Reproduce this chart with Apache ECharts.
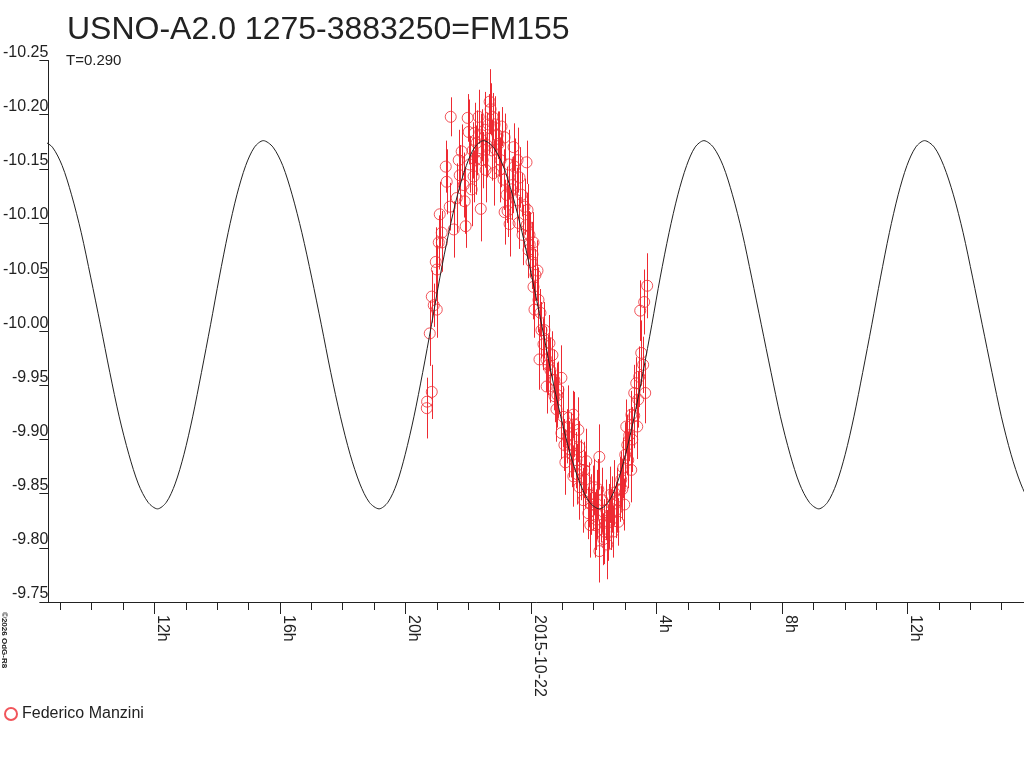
<!DOCTYPE html>
<html>
<head>
<meta charset="utf-8">
<script src="https://cdn.jsdelivr.net/npm/echarts@6/dist/echarts.min.js"></script>
<style>
html,body{margin:0;padding:0;background:#fff;}
#c{width:1024px;height:768px;}
</style>
</head>
<body>
<div id="c"></div>
<script>
// x values: hours since 2015-10-21 00:00 UT ; y values: magnitude
const obsTimes = [
20.680,20.690,20.839,20.775,20.839,20.902,20.998,20.966,21.000,21.061,
21.093,21.156,21.160,21.284,21.315,21.411,21.443,21.538,21.633,21.697,
21.792,21.887,21.919,21.983,22.015,22.046,22.110,22.173,22.205,22.269,
22.332,22.396,22.400,22.459,22.523,22.587,22.650,22.682,22.714,22.777,
22.809,22.873,22.936,22.968,23.032,23.063,23.127,23.159,23.160,23.222,
23.254,23.318,23.381,23.445,23.476,23.540,23.604,23.635,23.699,23.794,
23.858,23.860,23.921,23.953,23.960,24.017,24.080,24.080,24.144,24.207,
24.112,24.239,24.303,24.334,24.271,24.398,24.493,24.500,24.588,24.620,
24.684,24.747,24.750,24.811,24.875,24.970,24.970,25.034,25.097,25.161,
25.193,25.224,25.288,25.351,25.351,25.383,25.447,25.510,25.542,25.542,
25.606,25.669,25.733,25.764,25.828,25.860,25.923,25.987,26.019,26.050,
26.082,26.114,26.178,26.180,26.241,26.273,26.305,26.337,26.400,26.464,
26.496,26.527,26.559,26.623,26.655,26.718,26.782,26.845,26.877,26.941,
26.972,27.004,27.036,27.068,27.131,27.195,27.200,27.290,27.290,27.354,
27.386,27.417,27.449,27.513,27.576,27.481,27.608,27.703,27.640,
21.729,21.856,22.142,22.237,22.428,22.555,22.745,22.841,23.000,23.286,
23.413,23.572,23.731,23.890,24.048,24.430,24.556,24.843,25.065,25.320,
25.478,25.701,25.892,26.146,26.432,26.591,26.750,26.909,27.100,27.227
];
const obsMags = [
-9.929,-9.935,-9.944,-9.998,-10.032,-10.024,-10.020,-10.064,-10.057,-10.082,
-10.108,-10.091,-10.082,-10.152,-10.138,-10.115,-10.198,-10.094,-10.123,-10.158,
-10.166,-10.120,-10.097,-10.197,-10.184,-10.154,-10.131,-10.143,-10.183,-10.174,
-10.198,-10.169,-10.113,-10.158,-10.186,-10.172,-10.191,-10.212,-10.205,-10.198,
-10.146,-10.168,-10.181,-10.173,-10.158,-10.189,-10.140,-10.179,-10.110,-10.126,
-10.111,-10.099,-10.131,-10.170,-10.152,-10.121,-10.100,-10.142,-10.126,-10.115,
-10.156,-10.098,-10.075,-10.089,-10.080,-10.064,-10.082,-10.041,-10.052,-10.056,
-10.020,-10.029,-10.017,-10.001,-9.974,-9.988,-9.974,-9.949,-9.989,-9.964,
-9.978,-9.955,-9.940,-9.928,-9.946,-9.957,-9.906,-9.921,-9.879,-9.903,
-9.920,-9.891,-9.895,-9.923,-9.866,-9.914,-9.881,-9.909,-9.893,-9.856,
-9.872,-9.844,-9.863,-9.880,-9.832,-9.849,-9.840,-9.846,-9.856,-9.821,
-9.826,-9.840,-9.884,-9.797,-9.831,-9.844,-9.808,-9.815,-9.835,-9.814,
-9.829,-9.849,-9.826,-9.815,-9.851,-9.835,-9.824,-9.854,-9.863,-9.874,
-9.840,-9.886,-9.912,-9.895,-9.904,-9.872,-9.923,-9.943,-9.922,-9.952,
-9.912,-9.937,-9.958,-9.980,-9.969,-10.019,-10.027,-10.042,-9.943,
-10.144,-10.135,-10.167,-10.158,-10.181,-10.149,-10.167,-10.191,-10.149,-10.154,
-10.135,-10.158,-10.089,-10.112,-10.071,-10.001,-9.969,-9.941,-9.895,-9.886,
-9.868,-9.872,-9.821,-9.854,-9.803,-9.840,-9.844,-9.854,-9.881,-9.900
];
const obsErrs = [
0.028,0.022,0.025,0.030,0.024,0.020,0.026,0.032,0.022,0.025,
0.030,0.020,0.027,0.024,0.030,0.022,0.018,0.026,0.032,0.028,
0.025,0.030,0.020,0.022,0.030,0.026,0.034,0.024,0.028,0.030,
0.025,0.032,0.030,0.026,0.035,0.030,0.028,0.030,0.024,0.022,
0.030,0.026,0.022,0.030,0.025,0.018,0.028,0.022,0.030,0.026,
0.024,0.030,0.028,0.022,0.026,0.030,0.024,0.028,0.020,0.026,
0.020,0.030,0.026,0.022,0.030,0.025,0.028,0.030,0.024,0.028,
0.026,0.030,0.022,0.026,0.028,0.024,0.030,0.025,0.026,0.030,
0.022,0.028,0.024,0.030,0.026,0.030,0.024,0.028,0.030,0.025,
0.030,0.026,0.030,0.022,0.028,0.030,0.026,0.030,0.024,0.030,
0.028,0.030,0.026,0.030,0.024,0.030,0.028,0.030,0.026,0.030,
0.028,0.032,0.030,0.029,0.026,0.030,0.024,0.030,0.028,0.026,
0.030,0.026,0.028,0.024,0.030,0.026,0.022,0.030,0.026,0.028,
0.024,0.030,0.025,0.028,0.024,0.030,0.022,0.026,0.030,0.024,
0.030,0.026,0.028,0.030,0.026,0.028,0.030,0.030,0.028,
0.028,0.030,0.026,0.032,0.024,0.030,0.028,0.026,0.030,0.032,
0.026,0.030,0.028,0.024,0.030,0.026,0.028,0.030,0.024,0.030,
0.028,0.026,0.030,0.028,0.032,0.026,0.030,0.028,0.026,0.030
];
// fitted light curve
const curveTimes = [
8.45,8.75,9.06,9.36,9.67,9.97,10.28,10.58,10.88,11.19,11.49,11.80,12.10,
12.38,12.66,12.94,13.22,13.50,13.79,14.07,14.35,14.63,14.91,15.19,15.47,
15.78,16.09,16.39,16.70,17.01,17.32,17.62,17.93,18.24,18.55,18.85,19.16,
19.44,19.72,19.99,20.27,20.55,20.83,21.10,21.38,21.66,21.94,22.21,22.49,
22.80,23.11,23.41,23.72,24.03,24.34,24.64,24.95,25.26,25.57,25.87,26.18,
26.46,26.74,27.01,27.29,27.57,27.85,28.12,28.40,28.68,28.96,29.23,29.51,
29.81,30.12,30.42,30.73,31.03,31.34,31.65,31.95,32.26,32.56,32.87,33.17,
33.45,33.73,34.01,34.29,34.57,34.86,35.14,35.42,35.70,35.98,36.26,36.54,
36.85,37.15,37.46,37.77,38.07,38.38,38.69,38.99,39.30,39.61,39.91,40.22
];
const curveMags = [
-10.176,-10.170,-10.153,-10.126,-10.091,-10.050,-10.006,-9.962,-9.921,-9.886,-9.859,-9.842,-9.836,
-9.842,-9.859,-9.886,-9.921,-9.962,-10.006,-10.050,-10.091,-10.126,-10.153,-10.170,-10.176,
-10.170,-10.153,-10.126,-10.091,-10.050,-10.006,-9.962,-9.921,-9.886,-9.859,-9.842,-9.836,
-9.842,-9.859,-9.886,-9.921,-9.962,-10.006,-10.050,-10.091,-10.126,-10.153,-10.170,-10.176,
-10.170,-10.153,-10.126,-10.091,-10.050,-10.006,-9.962,-9.921,-9.886,-9.859,-9.842,-9.836,
-9.842,-9.859,-9.886,-9.921,-9.962,-10.006,-10.050,-10.091,-10.126,-10.153,-10.170,-10.176,
-10.170,-10.153,-10.126,-10.091,-10.050,-10.006,-9.962,-9.921,-9.886,-9.859,-9.842,-9.836,
-9.842,-9.859,-9.886,-9.921,-9.962,-10.006,-10.050,-10.091,-10.126,-10.153,-10.170,-10.176,
-10.170,-10.153,-10.126,-10.091,-10.050,-10.006,-9.962,-9.921,-9.886,-9.859,-9.842,-9.836
];
const majorTicks = [12,16,20,24,28,32,36];
const minorTicks = [9,10,11,12,13,14,15,16,17,18,19,20,21,22,23,24,25,26,27,28,29,30,31,32,33,34,35,36,37,38,39];
const titleText = 'USNO-A2.0 1275-3883250=FM155';
const subText = 'T=0.290';
const observer = 'Federico Manzini';

const RED = '#ee2a32';
const FONT = '"Liberation Sans", Arial, sans-serif';
const X_MIN = 8.622, X_MAX = 39.71;

const obsData = obsTimes.map((t,i)=>[t, obsMags[i], obsErrs[i]]);
const curveData = curveTimes.map((t,i)=>[t, curveMags[i]]);

const chart = echarts.init(document.getElementById('c'), null, {renderer:'canvas'});
chart.setOption({
  animation:false,
  backgroundColor:'#fff',
  textStyle:{fontFamily:FONT},
  title:[
    {text:titleText, left:62, top:9, textStyle:{fontSize:32, fontWeight:'normal', color:'#222', fontFamily:FONT}},
    {text:subText, left:61, top:48, textStyle:{fontSize:15, fontWeight:'normal', color:'#222', fontFamily:FONT}}
  ],
  legend:{
    data:[observer], left:4, top:706, orient:'vertical', padding:0,
    itemWidth:12, itemHeight:12, itemGap:4,
    textStyle:{fontSize:16, color:'#222', fontFamily:FONT}
  },
  graphic:[{
    type:'text', x:0, y:612, rotation:-Math.PI/2,
    style:{text:'\u00a92026 OdG-R8', fontSize:8, fontWeight:'bold', fill:'#222', verticalAlign:'bottom', align:'left', fontFamily:FONT}
  }],
  grid:{left:45.5, top:60.5, right:0, bottom:166, containLabel:false},
  xAxis:[{
    type:'value', min:X_MIN, max:X_MAX, position:'bottom',
    axisLine:{show:true, lineStyle:{color:'#222', width:1}},
    axisTick:{show:true, length:8, customValues:minorTicks, lineStyle:{color:'#222'}},
    axisLabel:{show:false},
    splitLine:{show:false}
  },{
    type:'value', min:X_MIN, max:X_MAX, position:'bottom',
    axisLine:{show:false},
    axisTick:{show:true, length:12, customValues:majorTicks, lineStyle:{color:'#222'}},
    axisLabel:{show:true, customValues:majorTicks, rotate:-90, margin:13, fontSize:16, color:'#222', fontFamily:FONT,
      verticalAlign:'bottom',
      formatter:v=> (Math.abs(v-24)<1e-6 ? '2015-10-22' : (Math.round(v)%24)+'h')},
    splitLine:{show:false}
  }],
  yAxis:{
    type:'value', inverse:true, min:-10.25, max:-9.75, interval:0.05,
    axisLine:{show:true, lineStyle:{color:'#222', width:1}},
    axisTick:{show:true, length:9, lineStyle:{color:'#222'}},
    axisLabel:{margin:0, fontSize:16, color:'#222', verticalAlign:'bottom', fontFamily:FONT,
      formatter:v=>v.toFixed(2)},
    splitLine:{show:false}
  },
  series:[
    {
      type:'custom', name:'err', xAxisIndex:0, yAxisIndex:0, silent:true, z:2,
      data:obsData, encode:{x:0, y:1},
      renderItem:function(params, api){
        const x = api.value(0), m = api.value(1), e = api.value(2);
        const p1 = api.coord([x, m-e]);
        const p2 = api.coord([x, m+e]);
        const px = Math.round(p1[0]) + 0.5;
        return {type:'line', shape:{x1:px, y1:p1[1], x2:px, y2:p2[1]}, style:{stroke:RED, lineWidth:1}};
      }
    },
    {
      type:'scatter', name:observer, xAxisIndex:0, yAxisIndex:0, z:3,
      data:obsData.map(d=>[d[0], d[1]]),
      symbol:'circle', symbolSize:11,
      itemStyle:{color:'rgba(0,0,0,0)', borderColor:RED, borderWidth:1}
    },
    {
      type:'line', name:'fit', xAxisIndex:0, yAxisIndex:0, z:5, silent:true,
      data:curveData, smooth:0.3, symbol:'none', showSymbol:false,
      lineStyle:{color:'#222', width:1}
    }
  ]
});
</script>
</body>
</html>
